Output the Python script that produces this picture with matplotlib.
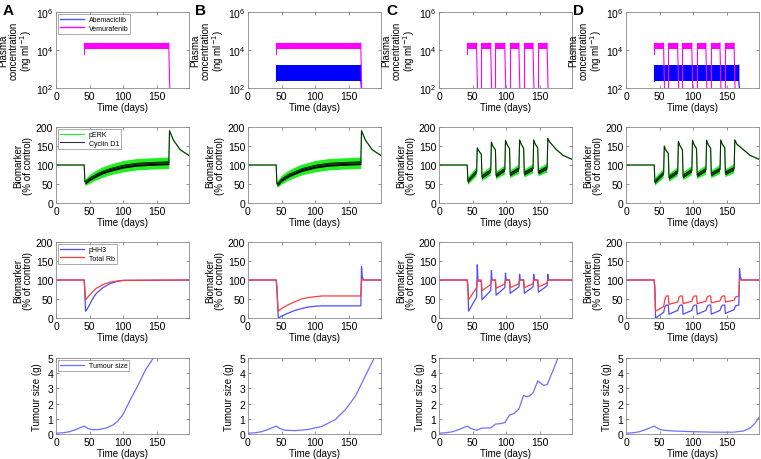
import numpy as np
import matplotlib
matplotlib.use("Agg")
import matplotlib.pyplot as plt

plt.rcParams['font.family'] = ['Liberation Sans', 'DejaVu Sans']

# ---------------- data ----------------
panels = ['A', 'B', 'C', 'D']

# plasma concentration (ng/ml): dosing blocks in days, band trough/peak
vem_cont = [(42, 168)]
vem_int = [(42, 56), (63, 77), (84, 98), (105, 119), (126, 140), (147, 161)]
abe_cont = [(42, 168)]
vem_lo, vem_hi = 1.15e4, 2.3e4
abe_lo, abe_hi = 2.2e2, 1.6e3
vem_first = 6e3      # first trough when dosing starts
washout = 50         # level below the axis after a block ends
vem_sched = [vem_cont, vem_cont, vem_int, vem_int]
abe_sched = [None, abe_cont, None, abe_cont]

# biomarker row 2: Cyclin D1 line, pERK band half-width (0 = no band)
t2_A = [0, 42, 43, 46, 50, 60, 70, 80, 100, 120, 140, 168, 169, 175, 185, 198]
cyc_A = [100, 100, 55, 58, 64, 74, 82, 88, 97, 102, 104, 106, 190, 165, 140, 125]
erk_A = [0, 0, 8, 10, 12, 13, 14, 14, 15, 15, 15, 15, 0, 0, 0, 0]
t2_B = [0, 42, 43, 46, 50, 60, 70, 80, 100, 120, 140, 168, 169, 175, 185, 198]
cyc_B = [100, 100, 50, 54, 62, 73, 81, 88, 97, 102, 104, 106, 190, 165, 140, 125]
erk_B = [0, 0, 8, 10, 12, 13, 14, 14, 15, 15, 15, 15, 0, 0, 0, 0]
t2_C = [0, 42, 43, 56, 57, 59, 63, 64, 77, 78, 80, 84, 85, 98, 99, 101, 105,
        106, 119, 120, 122, 126, 127, 140, 141, 143, 147, 148, 161, 162, 165, 175, 185, 198]
cyc_C = [100, 100, 57, 82, 145, 138, 128, 68, 84, 160, 150, 140, 72, 87, 165, 155, 143,
         75, 89, 166, 156, 144, 77, 90, 166, 156, 145, 80, 92, 170, 160, 140, 125, 115]
erk_C = [0, 0, 10, 12, 0, 0, 0, 10, 12, 0, 0, 0, 10, 12, 0, 0, 0,
         10, 12, 0, 0, 0, 10, 12, 0, 0, 0, 10, 12, 0, 0, 0, 0, 0]
t2_D = [0, 42, 43, 56, 57, 59, 63, 64, 77, 78, 80, 84, 85, 98, 99, 101, 105,
        106, 119, 120, 122, 126, 127, 140, 141, 143, 147, 148, 161, 162, 165, 175, 185, 198]
cyc_D = [100, 100, 55, 78, 150, 140, 130, 66, 82, 162, 152, 140, 70, 85, 165, 155, 143,
         73, 87, 165, 155, 144, 75, 88, 166, 156, 145, 78, 90, 166, 155, 140, 125, 115]
erk_D = erk_C
cyc_half = 5

# biomarker row 3: pHH3 and Total Rb
t3_A = [0, 42, 43, 44, 46, 50, 55, 60, 70, 80, 90, 100, 198]
hh3_A = [100, 100, 60, 18, 22, 35, 52, 65, 80, 90, 96, 99, 100]
rb_A = [100, 100, 75, 48, 52, 60, 70, 78, 88, 94, 97, 99, 100]
t3_B = [0, 42, 43, 45, 50, 60, 70, 80, 90, 100, 110, 168, 169, 170, 172, 198]
hh3_B = [100, 100, 85, 0, 5, 13, 20, 25, 29, 31, 32, 32, 135, 110, 100, 100]
rb_B = [100, 100, 70, 18, 25, 35, 43, 50, 54, 56, 58, 58, 95, 104, 100, 100]
t3_C = [0, 42, 43, 44, 56, 57, 58, 59, 63, 64, 77, 78, 79, 84, 85, 98, 99, 100, 105, 106,
        119, 120, 121, 126, 127, 140, 141, 142, 147, 148, 161, 162, 163, 198]
hh3_C = [100, 100, 85, 18, 55, 140, 100, 97, 97, 48, 72, 125, 100, 100, 60, 80, 118, 100,
         100, 65, 82, 115, 100, 100, 65, 82, 115, 100, 100, 68, 85, 115, 100, 100]
rb_C = [100, 100, 80, 48, 80, 100, 100, 100, 100, 72, 88, 100, 100, 100, 78, 90, 100, 100,
        100, 80, 90, 100, 100, 100, 80, 90, 100, 100, 100, 82, 92, 100, 100, 100]
t3_D = [0, 42, 43, 44, 56, 58, 60, 63, 64, 77, 79, 81, 84, 85, 98, 100, 102, 105, 106,
        119, 121, 123, 126, 127, 140, 142, 144, 147, 148, 161, 163, 168, 169, 170, 172, 198]
hh3_D = [100, 100, 80, 0, 15, 30, 34, 34, 10, 20, 30, 34, 34, 10, 20, 30, 34, 34, 10,
         20, 30, 34, 34, 10, 20, 30, 34, 34, 12, 22, 32, 34, 130, 110, 100, 100]
rb_D = [100, 100, 70, 18, 30, 50, 58, 58, 36, 42, 55, 58, 58, 38, 44, 55, 58, 58, 38,
        44, 55, 58, 58, 40, 45, 55, 58, 58, 42, 47, 55, 58, 98, 102, 100, 100]

# tumour size (g)
t4_A = [0, 10, 20, 30, 42, 48, 55, 65, 75, 85, 92, 100, 110, 122, 133, 145]
tum_A = [0.05, 0.08, 0.15, 0.3, 0.52, 0.35, 0.28, 0.3, 0.4, 0.6, 0.85, 1.3, 2.2, 3.2, 4.2, 5.0]
t4_B = [0, 10, 20, 30, 42, 48, 55, 70, 90, 110, 130, 145, 160, 170, 180, 188]
tum_B = [0.05, 0.08, 0.15, 0.3, 0.52, 0.35, 0.25, 0.22, 0.3, 0.5, 0.95, 1.6, 2.5, 3.4, 4.3, 5.0]
t4_C = [0, 10, 20, 30, 42, 48, 56, 63, 70, 77, 84, 91, 98, 105, 112, 119, 126, 130, 135,
        140, 147, 151, 156, 161, 170, 177]
tum_C = [0.05, 0.08, 0.15, 0.3, 0.52, 0.35, 0.25, 0.38, 0.4, 0.4, 0.65, 0.68, 0.75, 1.25,
         1.35, 1.65, 2.55, 2.45, 2.5, 2.7, 3.5, 3.35, 3.2, 3.25, 4.2, 5.0]
t4_D = [0, 10, 20, 30, 42, 48, 55, 70, 100, 130, 160, 175, 185, 192, 198]
tum_D = [0.05, 0.08, 0.15, 0.3, 0.52, 0.35, 0.25, 0.2, 0.15, 0.12, 0.12, 0.2, 0.4, 0.7, 1.1]

row2 = [(t2_A, cyc_A, erk_A), (t2_B, cyc_B, erk_B), (t2_C, cyc_C, erk_C), (t2_D, cyc_D, erk_D)]
row3 = [(t3_A, hh3_A, rb_A), (t3_B, hh3_B, rb_B), (t3_C, hh3_C, rb_C), (t3_D, hh3_D, rb_D)]
row4 = [(t4_A, tum_A), (t4_B, tum_B), (t4_C, tum_C), (t4_D, tum_D)]

# ---------------- colours ----------------
c_abe = '#0000ff'
c_vem = '#ff00ff'
c_erk = '#22ee22'
c_hh3 = '#4d4dff'
c_rb = '#ff3b3b'
c_tum = '#6f6fff'

W, H = 761, 460
fig = plt.figure(figsize=(W / 100, H / 100), dpi=100)

lefts = [56, 248, 439, 626]
tops = [13, 128, 243, 359]
aw, ah = 133, 76
fs_tick, fs_lab = 7.5, 7


def style(ax):
    for s in ax.spines.values():
        s.set_color('#8a8a8a')
        s.set_linewidth(0.6)
    ax.tick_params(direction='in', length=2.5, width=0.5, labelsize=fs_tick,
                   top=True, right=True, color='#666666', pad=2)
    ax.set_xlim(0, 198)
    ax.set_xticks([0, 50, 100, 150])
    ax.set_xlabel('Time (days)', fontsize=fs_lab, labelpad=1)


def legend(ax, loc='upper left'):
    lg = ax.legend(loc=loc, fontsize=5, handlelength=3.5, fancybox=False,
                   borderaxespad=0.3, borderpad=0.3, labelspacing=0.25,
                   handletextpad=0.6, framealpha=1)
    lg.get_frame().set_edgecolor('#888888')
    lg.get_frame().set_linewidth(0.5)


def blocks(ax, sched, lo, hi, color, first):
    for i, (s, e) in enumerate(sched):
        ax.fill_between([s, e], lo, hi, color=color, lw=0)
        start = first if i == 0 else washout
        ax.plot([s, s], [start, hi], color=color, lw=0.8)
        ax.plot([e, e, e + 1.5], [hi, lo, washout], color=color, lw=0.8)


for j, p in enumerate(panels):
    axs = []
    for i in range(4):
        ax = fig.add_axes([lefts[j] / W, 1 - (tops[i] + ah) / H, aw / W, ah / H])
        style(ax)
        axs.append(ax)

    # row 1: plasma concentration
    ax = axs[0]
    ax.set_yscale('log')
    ax.plot([], [], color='#5050ff', lw=1, label='Abemaciclib')
    ax.plot([], [], color=c_vem, lw=1, label='Vemurafenib')
    if abe_sched[j] is not None:
        blocks(ax, abe_sched[j], abe_lo, abe_hi, c_abe, abe_lo)
    blocks(ax, vem_sched[j], vem_lo, vem_hi, c_vem, vem_first)
    ax.set_ylim(1e2, 1e6)
    ax.set_yticks([1e2, 1e4, 1e6])
    ax.minorticks_off()
    ax.set_ylabel('Plasma\nconcentration\n(ng ml$^{-1}$)', fontsize=fs_lab, labelpad=1,
                  linespacing=1.0)

    # row 2: pERK / Cyclin D1
    ax = axs[1]
    t, cyc, erk = [np.array(v, dtype=float) for v in row2[j]]
    on = erk > 0
    ax.plot(t, cyc, color=c_erk, lw=0.8, label='pERK')
    ax.fill_between(t, cyc - erk, cyc + erk, where=on, color=c_erk, lw=0)
    ax.fill_between(t, cyc - cyc_half, cyc + cyc_half, where=on, color='black', lw=0)
    ax.plot(t, cyc, color='black', lw=0.8, alpha=0.8, label='Cyclin D1')
    ax.set_ylim(0, 200)
    ax.set_yticks([0, 50, 100, 150, 200])
    ax.set_ylabel('Biomarker\n(% of control)', fontsize=fs_lab, labelpad=2, linespacing=1.0)

    # row 3: pHH3 / Total Rb
    ax = axs[2]
    t, hh3, rb = row3[j]
    ax.plot(t, hh3, color=c_hh3, lw=0.9, label='pHH3')
    ax.plot(t, rb, color=c_rb, lw=0.9, label='Total Rb')
    ax.set_ylim(0, 200)
    ax.set_yticks([0, 50, 100, 150, 200])
    ax.set_ylabel('Biomarker\n(% of control)', fontsize=fs_lab, labelpad=2, linespacing=1.0)

    # row 4: tumour size
    ax = axs[3]
    t, tum = row4[j]
    ax.plot(t, tum, color=c_tum, lw=0.9, label='Tumour size')
    ax.set_ylim(0, 5)
    ax.set_yticks([0, 1, 2, 3, 4, 5])
    ax.set_ylabel('Tumour size (g)', fontsize=fs_lab, labelpad=4)

    if j == 0:
        for ax in axs:
            legend(ax)

    fig.text((lefts[j] - 53) / W, 1 - 4 / H, p, fontsize=11, fontweight='bold',
             ha='left', va='top')

fig.savefig('out.png', dpi=100)
